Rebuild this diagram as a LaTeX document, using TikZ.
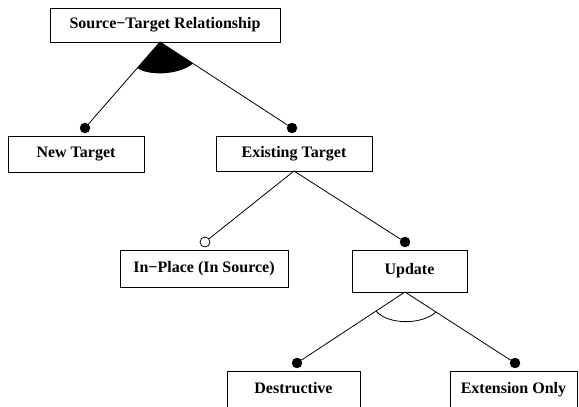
\documentclass[tikz,border=0pt]{standalone}
\usepackage{fontspec}
\setmainfont{Liberation Serif}
\begin{document}
\begin{tikzpicture}[x=1pt,y=-1pt,
  feat/.style={draw,line width=0.8pt,rectangle,inner sep=0pt,font=\fontsize{16}{19}\selectfont\bfseries},
  cutfeat/.style={feat,anchor=north,text height=22pt,text depth=20pt},
  mand/.style={circle,fill=black,draw=black,inner sep=0pt,minimum size=10pt},
  opt/.style={circle,fill=white,draw=black,line width=0.8pt,inner sep=0pt,minimum size=10pt},
  edge/.style={line width=0.8pt}]
\clip (0,0) rectangle (579,407);
\useasboundingbox (0,0) rectangle (579,407);
% feature boxes
\node[feat,minimum width=230pt,minimum height=34pt] (src) at (165,25) {Source−Target Relationship};
\node[feat,minimum width=136pt,minimum height=36pt] (new) at (76,154) {New Target};
\node[feat,minimum width=156pt,minimum height=35pt] (ex) at (294,153.5) {Existing Target};
\node[feat,minimum width=168pt,minimum height=37pt] (inp) at (204,268.5) {In−Place (In Source)};
\node[feat,minimum width=115pt,minimum height=42pt] (upd) at (409.5,271) {Update};
\node[cutfeat,minimum width=133pt] (des) at (293.5,371) {Destructive};
\node[cutfeat,minimum width=127pt] (ext) at (513.5,371) {Extension Only};
% apexes
\coordinate (srcap) at (160,42);
\coordinate (exap) at (294,171);
\coordinate (updap) at (405,292);
% group arcs
\fill (srcap) -- (137.3,68) .. controls (147,75.5) and (178,76) .. (193,63.5) -- cycle;
\draw[edge] (376,311) .. controls (388,325) and (422,325) .. (436,312);
% dots
\node[mand] (dnew) at (85,128) {};
\node[mand] (dex) at (292,128) {};
\node[opt] (dinp) at (205,242) {};
\node[mand] (dupd) at (405,242) {};
\node[mand] (ddes) at (297,363) {};
\node[mand] (dext) at (515,363) {};
% connectors
\draw[edge] (srcap) -- (dnew);
\draw[edge] (srcap) -- (dex);
\draw[edge] (exap) -- (dinp);
\draw[edge] (exap) -- (dupd);
\draw[edge] (updap) -- (ddes);
\draw[edge] (updap) -- (dext);
\end{tikzpicture}
\end{document}
